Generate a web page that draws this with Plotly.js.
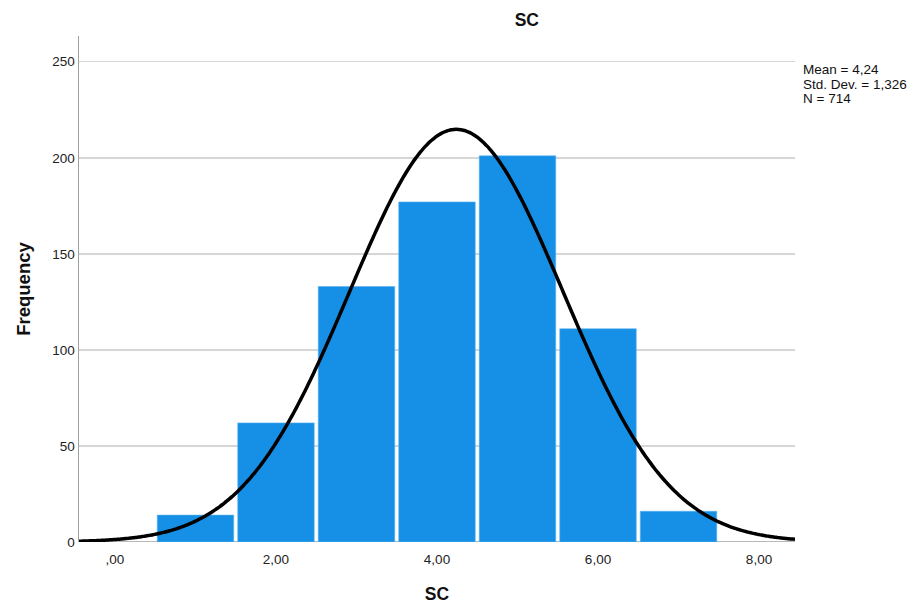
<!DOCTYPE html>
<html>
<head>
<meta charset="utf-8">
<script src="https://cdn.plot.ly/plotly-3.0.1.min.js"></script>
<style>html,body{margin:0;padding:0;background:#fff;}#chart{width:913px;height:609px;}</style>
</head>
<body>
<div id="chart"></div>
<script>
// Histogram data (bin centres and counts)
const binCenters = [1, 2, 3, 4, 5, 6, 7];
const counts = [14, 62, 133, 177, 201, 111, 16];
const binWidth = 1;
// Summary statistics shown on the chart
const meanVal = 4.24;
const sdVal = 1.326;
const nVal = 714;
const statsLines = ["Mean = 4,24", "Std. Dev. = 1,326", "N = 714"];
// Axis ticks
const xTickVals = [0, 2, 4, 6, 8];
const xTickText = [",00", "2,00", "4,00", "6,00", "8,00"];
const yTickVals = [0, 50, 100, 150, 200, 250];

const xMin = -0.447, xMax = 8.447;
// Fitted normal curve from mean, SD and N
const curveX = [], curveY = [];
const steps = 300;
for (let i = 0; i <= steps; i++) {
  const x = xMin + (xMax - xMin) * i / steps;
  const z = (x - meanVal) / sdVal;
  curveX.push(x);
  curveY.push(nVal * binWidth * Math.exp(-0.5 * z * z) / (sdVal * Math.sqrt(2 * Math.PI)));
}

const data = [
  {
    type: 'bar', x: binCenters, y: counts, width: 0.95,
    marker: {color: '#1590E6', line: {color: '#5AB0EE', width: 0.6}},
    hoverinfo: 'x+y', showlegend: false
  },
  {
    type: 'scatter', mode: 'lines', x: curveX, y: curveY,
    line: {color: '#000000', width: 3.5, shape: 'spline'},
    hoverinfo: 'skip', showlegend: false
  }
];

const statsY = [0.933, 0.905, 0.877];
const annotations = statsLines.map((t, i) => ({
  xref: 'paper', yref: 'paper', x: 1.008, y: statsY[i], xanchor: 'left', yanchor: 'middle',
  align: 'left', showarrow: false, text: t,
  font: {size: 13.5, color: '#111111', family: 'Liberation Sans, Arial, sans-serif'}
}));

const layout = {
  width: 913, height: 609,
  margin: {l: 79, r: 118, t: 36, b: 67},
  paper_bgcolor: '#ffffff', plot_bgcolor: '#ffffff',
  font: {family: 'Liberation Sans, Arial, sans-serif', color: '#222222', size: 13.5},
  title: {
    text: '<b>SC</b>', xref: 'container', x: 0.577, xanchor: 'center',
    yref: 'container', y: 0.967, yanchor: 'middle',
    font: {size: 17.5, color: '#111111', family: 'Liberation Sans, Arial, sans-serif'}
  },
  xaxis: {
    range: [xMin, xMax], tickvals: xTickVals, ticktext: xTickText,
    showgrid: false, zeroline: false, showline: false,
    ticks: 'outside', ticklen: 5, tickcolor: 'rgba(0,0,0,0)',
    tickfont: {size: 13.5, color: '#222222'},
    title: {text: '<b>SC</b>', standoff: 21, font: {size: 17.5, color: '#111111'}}
  },
  yaxis: {
    range: [0, 263.4], tickvals: yTickVals,
    showgrid: true, gridcolor: '#d6d6d6', gridwidth: 1.5,
    zeroline: false, showline: true, linecolor: '#a0a0a0', linewidth: 1.5,
    ticks: '', tickfont: {size: 13.5, color: '#222222'},
    title: {text: '<b>Frequency</b>', standoff: 17, font: {size: 18.5, color: '#111111'}}
  },
  shapes: [{
    type: 'line', xref: 'paper', yref: 'y', x0: 0, x1: 1, y0: 0, y1: 0,
    line: {color: '#a0a0a0', width: 1.5}, layer: 'below'
  }],
  annotations: annotations,
  bargap: 0.05
};

Plotly.newPlot('chart', data, layout, {displayModeBar: false, staticPlot: true});
</script>
</body>
</html>
